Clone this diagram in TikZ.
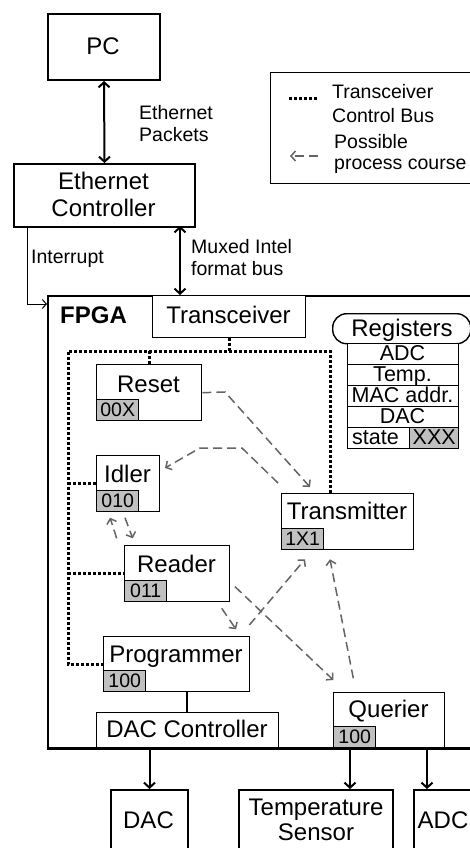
\documentclass[tikz,border=0pt]{standalone}
\usepackage{fontspec}
\setmainfont{Liberation Sans}
\usetikzlibrary{arrows.meta}
\definecolor{tagfill}{RGB}{192,192,192}
\definecolor{proc}{RGB}{100,100,100}
\tikzset{
  big/.style={font=\fontsize{24}{27}\selectfont, inner sep=0pt, anchor=base},
  bigbold/.style={font=\fontsize{24}{27}\selectfont\bfseries, inner sep=0pt, anchor=base west},
  small/.style={font=\fontsize{19.5}{22}\selectfont, inner sep=0pt, anchor=base west},
  regtxt/.style={font=\fontsize{21.5}{22}\selectfont, inner sep=0pt, anchor=base},
  tagtxt/.style={font=\fontsize{19.5}{20}\selectfont, inner sep=0pt},
  outerbox/.style={draw, line width=2pt, inner sep=0pt, anchor=north west},
  inbox/.style={draw, line width=1.4pt, inner sep=0pt, anchor=north west, fill=white},
  regbox/.style={draw, line width=1.4pt, inner sep=0pt, anchor=north west, fill=white, minimum width=111, minimum height=21},
  tagbox/.style={draw, line width=1.4pt, fill=tagfill, inner sep=0pt, anchor=south west, minimum width=42, minimum height=21},
  barb/.tip={Straight Barb[length=5pt,width=11pt]},
  dbl/.style={line width=2pt, barb-barb},
  sgl/.style={line width=2pt, -barb},
  thin/.style={line width=1pt, -{Straight Barb[length=4pt,width=9pt]}},
  proc/.style={draw=proc, line width=1.5pt, dash pattern=on 9pt off 5pt, -{Straight Barb[length=4.5pt,width=10pt]}},
  bus/.style={line width=3pt, dash pattern=on 3pt off 2pt},
}
\begin{document}
\begin{tikzpicture}[x=1pt, y=-1pt]
\useasboundingbox (0,0) rectangle (470,848);
\clip (0,0) rectangle (470,848);
\fill[white] (0,0) rectangle (470,848);

% top boxes
\node[outerbox, minimum width=112, minimum height=66] (pc) at (47,13) {};
\node[big] at (103,55) {PC};
\node[outerbox, minimum width=181, minimum height=63] (eth) at (13,163) {};
\node[big] at (103.5,189) {Ethernet};
\node[big] at (103.5,216) {Controller};
\draw[dbl] (pc.south) -- (eth.north);
\node[small] (lblpk) at (139,120) {Ethernet};
\node[small] (lblpk2) at (139,142) {Packets};

% legend
\node[draw, line width=1.4pt, inner sep=0pt, anchor=north west, minimum width=230, minimum height=111] (legend) at (270,72) {};
\coordinate (lb1) at (289,99);
\coordinate (lb2) at (317,99);
\draw[bus] (lb1) -- (lb2);
\coordinate (lp1) at (318,156);
\coordinate (lp2) at (290,156);
\draw[proc] (lp1) -- (lp2);
\node[small] at (332,99) {Transceiver};
\node[small] at (332,122) {Control Bus};
\node[small] at (334,148) {Possible};
\node[small] at (334,169) {process course};

% FPGA
\node[outerbox, minimum width=450, minimum height=452] (fpga) at (47,295) {};
\node[bigbold] at (60,323) {FPGA};
\node[inbox, minimum width=153, minimum height=42] (trx) at (152,295) {};
\node[big] at (228.5,323) {Transceiver};

% interrupt & muxed bus
\coordinate (intA) at (27,226);
\coordinate (intB) at (27,304);
\draw[thin] (intA) -- (intB) -- (intB -| fpga.west);
\node[small] at (31,263) {Interrupt};
\draw[dbl] (180,226) coordinate (muxA) -- (muxA |- fpga.north);
\node[small] at (191,253) {Muxed Intel};
\node[small] at (191,275) {format bus};

% registers
\node[draw, line width=1.4pt, rounded corners=14pt, inner sep=0pt, anchor=north west, minimum width=138, minimum height=30, fill=white] (reghead) at (332,313) {};
\node[big] at (402,336) {Registers};
\node[regbox] (r1) at (347,343) {};
\node[regbox] (r2) at (347,364) {};
\node[regbox] (r3) at (347,385) {};
\node[regbox] (r4) at (347,406) {};
\node[regbox] (r5) at (347,427) {};
\node[draw, line width=1.4pt, fill=tagfill, inner sep=0pt, anchor=north east, minimum width=49, minimum height=21] (xxx) at (r5.north east) {};
\node[regtxt] at (402.5,360) {ADC};
\node[regtxt] at (402.5,381) {Temp.};
\node[regtxt] at (402.5,402.5) {MAC addr.};
\node[regtxt] at (402.5,423) {DAC};
\node[regtxt, anchor=base west] at (352,444.5) {state};
\node[regtxt] at (xxx.center |- 0,444.5) {XXX};

% state boxes
\node[inbox, minimum width=105, minimum height=56] (reset) at (96,364) {};
\node[big] at (148.5,392) {Reset};
\node[tagbox] (treset) at (reset.south west) {};
\node[tagtxt] at (treset.center) {00X};

\node[inbox, minimum width=63, minimum height=56] (idler) at (96,455) {};
\node[big] at (127.5,482) {Idler};
\node[tagbox] (tidler) at (idler.south west) {};
\node[tagtxt] at (tidler.center) {010};

\node[inbox, minimum width=132, minimum height=56] (trans) at (281,493) {};
\node[big] at (347,519) {Transmitter};
\node[tagbox] (ttrans) at (trans.south west) {};
\node[tagtxt] at (ttrans.center) {1X1};

\node[inbox, minimum width=105, minimum height=56] (reader) at (124,545) {};
\node[big] at (176.5,572) {Reader};
\node[tagbox] (treader) at (reader.south west) {};
\node[tagtxt] at (treader.center) {011};

\node[inbox, minimum width=146, minimum height=55] (prog) at (103,636) {};
\node[big] at (176,662) {Programmer};
\node[tagbox] (tprog) at (prog.south west) {};
\node[tagtxt] at (tprog.center) {100};

\node[inbox, minimum width=182, minimum height=35] (dacc) at (96,712) {};
\node[big] at (187,737) {DAC Controller};
\draw[line width=1.4pt] (prog.south -| 187,0) -- (dacc.north -| 187,0);

\node[inbox, minimum width=111, minimum height=55] (quer) at (333,692) {};
\node[big] at (388.5,717) {Querier};
\node[tagbox] (tquer) at (quer.south west) {};
\node[tagtxt] at (tquer.center) {100};

% redraw FPGA bottom border over boxes
\draw[line width=2pt] (fpga.south west) -- (fpga.south east);

% transceiver control bus
\coordinate (bTL) at (68,351);
\coordinate (bTR) at (330,351);
\draw[bus] (trx.south) -- (trx.south |- bTL);
\draw[bus] (bTR |- trans.north) -- (bTR) -- (bTL) -- (bTL |- prog.west) -- (prog.west);
\draw[bus] (reset.north |- bTL) -- (reset.north);
\draw[bus] (bTL |- idler.west) -- (idler.west);
\draw[bus] (bTL |- reader.west) -- (reader.west);

% possible process course
\coordinate (p1a) at (225,392);
\coordinate (p1b) at (310,487);
\draw[proc] (reset.east) -- (p1a) -- (p1b);
\coordinate (p2a) at (278,483);
\coordinate (p2b) at (242,448);
\coordinate (p2c) at (200,448);
\coordinate (p2d) at (165,468);
\draw[proc] (p2a) -- (p2b) -- (p2c) -- (p2d);
\coordinate (p3a) at (116.7,538.3);
\coordinate (p3b) at (110,517.7);
\draw[proc] (p3a) -- (p3b);
\coordinate (p4a) at (125,517.7);
\coordinate (p4b) at (132.7,538.3);
\draw[proc] (p4a) -- (p4b);
\coordinate (p5a) at (221.7,608.3);
\coordinate (p5b) at (236,629.3);
\draw[proc] (p5a) -- (p5b);
\coordinate (p6a) at (249.3,625);
\coordinate (p6b) at (305,559.3);
\draw[proc] (p6a) -- (p6b);
\coordinate (p7a) at (235,586.7);
\coordinate (p7b) at (333.3,680);
\draw[proc] (p7a) -- (p7b);
\coordinate (p8a) at (353.3,678.3);
\coordinate (p8b) at (330,559.3);
\draw[proc] (p8a) -- (p8b);

% bottom devices
\node[outerbox, minimum width=77, minimum height=90] (dac) at (110,789) {};
\node[big] at (148.5,828) {DAC};
\node[outerbox, minimum width=154, minimum height=90] (temp) at (238,789) {};
\node[big] at (316,815) {Temperature};
\node[big] at (316,840) {Sensor};
\node[outerbox, minimum width=60, minimum height=90] (adc) at (413,789) {};
\node[big] at (443,828) {ADC};
\draw[sgl] (dacc.south -| dac.north) -- (dac.north);
\draw[sgl] (350,747) coordinate (tq) -- (tq |- temp.north);
\draw[sgl] (427,747) coordinate (ta) -- (ta |- adc.north);
\end{tikzpicture}
\end{document}
